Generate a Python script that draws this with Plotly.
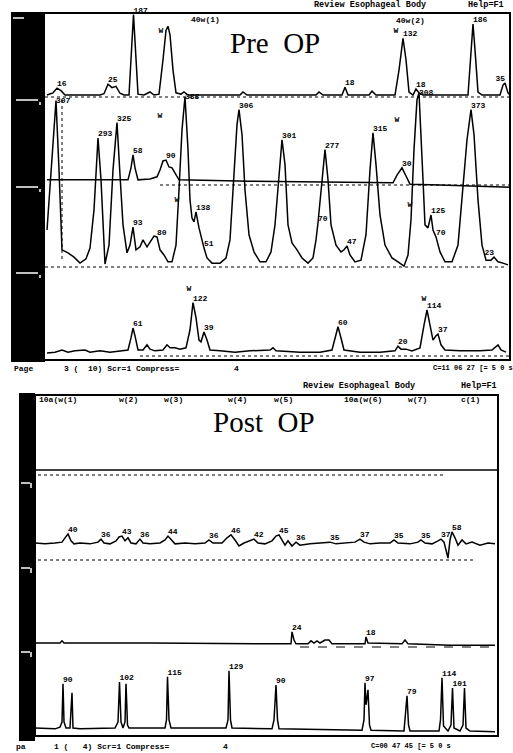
import plotly.graph_objects as go

W, H = 513, 753
K = 0.43  # pixels per mmHg on every channel

# ---------------- PRE OP (time in s, pressure in mmHg) ----------------
pre_ch1_t = [9.4, 10.6, 11.4, 12.2, 13.0, 20.0, 20.8, 21.6, 22.4, 23.2, 24.0, 24.8, 25.8, 26.3, 26.7, 27.1, 27.6,
             28.8, 30.0, 30.8, 31.8, 32.6, 33.2, 33.6, 34.0, 34.6, 35.2, 36.2, 36.8, 37.6, 48.0, 48.6, 49.4,
             63.2, 63.8, 64.6, 68.4, 69.0, 69.6, 73.8, 74.4, 75.2, 79.0, 79.8, 80.6, 81.2, 81.8, 82.6,
             83.2, 83.8, 84.6, 93.6, 94.2, 94.6, 95.0, 95.6, 96.4, 100.0, 100.6, 101.0, 101.6, 102.0]
pre_ch1_p = [0, 5, 16, 10, 0, 0, 3, 25, 17, 20, 4, 0, 0, 105, 187, 105, 2,
             0, 7, 0, 2, 82, 150, 160, 140, 58, 5, 2, 7, 0, 0, 7, 0,
             0, 7, 0, 0, 18, 0, 0, 9, 0, 0, 58, 132, 82, 7, 0,
             14, 5, 0, 0, 105, 165, 105, 7, 0, 0, 23, 28, 5, 0]
pre_ch1_lab_t = [11.4, 21.6, 26.7, 69.0, 80.6, 83.2, 94.6, 101.0]
pre_ch1_lab = ["16", "25", "187", "18", "132", "18", "186", "35"]
pre_ch1_w_t = [32.2, 79.2]
pre_ch1_w_p = [150, 150]

pre_ch2_t = [9.4, 10.0, 10.6, 11.2, 11.8, 12.4, 13.6, 14.8, 16.0, 17.2, 18.0, 18.8, 19.6, 20.2, 21.0, 21.8, 22.6,
             23.4, 24.0, 24.6, 25.4, 26.0, 26.6, 27.2, 28.0, 28.6, 29.4, 30.2, 30.8, 31.4, 32.0, 32.8, 33.6,
             34.4, 35.2, 35.8, 36.4, 37.0, 37.6, 38.0, 38.4, 38.8, 39.2, 39.8, 40.4, 40.8, 41.4, 42.4, 44.0,
             45.2, 46.0, 46.8, 47.4, 47.8, 48.4, 49.0, 49.8, 50.8, 52.0, 53.2, 54.2, 55.0, 55.8, 56.4, 57.0,
             57.6, 58.4, 59.4, 60.4, 61.6, 62.6, 63.2, 63.6, 64.2, 65.0, 65.6, 66.2, 67.2, 68.2, 68.8, 69.4,
             70.0, 71.0, 72.2, 73.2, 74.0, 74.6, 75.2, 76.0, 77.0, 78.4, 79.6, 80.8, 81.6, 82.2, 82.8, 83.4,
             83.8, 84.2, 84.6, 85.0, 85.6, 86.2, 86.6, 87.2, 88.0, 89.0, 90.4, 91.6, 92.4, 93.4, 94.2, 94.8,
             95.6, 96.4, 97.2, 98.2, 98.8, 99.6, 100.6, 101.6]
pre_ch2_p = [79, 184, 289, 380, 219, 33, 26, 16, 2, 12, 37, 126, 293, 196, 0, 44, 219,
             329, 207, 91, 26, 44, 86, 33, 40, 56, 40, 56, 65, 63, 33, 21, 5,
             5, 44, 172, 312, 389, 266, 149, 107, 98, 121, 84, 51, 37, 14, 2, 2,
             14, 56, 196, 324, 359, 301, 172, 68, 28, 5, 5, 28, 91, 207, 289, 231,
             91, 49, 33, 14, 2, 14, 56, 96, 172, 266, 196, 91, 44, 28, 33, 42,
             21, 5, 9, 68, 219, 305, 231, 114, 44, 14, 5, -5, 21, 103, 266, 382,
             398, 312, 196, 91, 84, 114, 79, 63, 28, 5, 5, 44, 149, 289, 359, 301,
             149, 44, 9, 9, 16, 5, 2, -2]
pre_ch2_lab_t = [11.2, 19.6, 23.4, 26.6, 31.4, 37.0, 39.2, 40.8, 47.8, 56.4, 63.6, 65.0, 69.4, 74.6,
                 83.8, 86.2, 87.2, 94.2, 98.8]
pre_ch2_lab = ["307", "293", "325", "93", "80", "388", "138", "51", "306", "301", "70", "277", "47", "315",
               "308", "125", "70", "373", "23"]
pre_ch2_w_t = [32.0, 79.4, 35.4, 82.0]
pre_ch2_w_p = [345, 335, 150, 138]

pre_ch2b_t = [9.4, 16.0, 25.6, 26.2, 26.6, 27.0, 27.6, 30.0, 31.4, 32.0, 32.6, 33.2, 33.8, 34.4, 35.0, 35.8,
              50.0, 64.0, 78.6, 79.4, 80.4, 81.2, 82.0, 88.0, 102.0]
pre_ch2b_p = [5, 5, 5, 33, 63, 33, 5, 7, 12, 28, 49, 51, 35, 33, 21, 5,
              2, 0, -2, 16, 33, 14, -5, -7, -12]
pre_ch2b_lab_t = [26.6, 33.2, 80.4]
pre_ch2b_lab = ["58", "90", "30"]

pre_ch3_t = [9.4, 11.0, 12.4, 13.6, 15.0, 17.0, 18.0, 20.0, 22.0, 24.0, 25.6, 26.2, 26.6, 27.0, 27.6, 28.6,
             29.4, 30.0, 31.0, 32.6, 33.4, 34.0, 35.0, 36.0, 37.2, 38.0, 38.6, 39.2, 39.8, 40.2, 40.8, 41.4,
             42.0, 44.0, 47.0, 50.0, 54.0, 54.6, 55.2, 60.0, 64.0, 66.4, 67.0, 67.6, 68.2, 68.8, 72.0, 76.0,
             79.0, 79.6, 80.2, 81.2, 82.4, 84.0, 84.8, 85.4, 86.0, 86.6, 87.2, 87.6, 88.2, 89.0, 92.0, 96.0,
             98.4, 99.2, 99.6, 100.2, 101.2]
pre_ch3_p = [0, 2, 7, 2, 5, 7, 2, 5, 2, 5, 7, 35, 58, 40, 7, 7,
             19, 9, 5, 7, 19, 12, 12, 9, 12, 54, 117, 82, 30, 26, 49, 30,
             7, 5, 2, 5, 7, 12, 5, 2, 2, 7, 35, 61, 35, 7, 2, 2,
             5, 16, 9, 9, 5, 12, 65, 100, 65, 30, 40, 44, 19, 7, 5, 5,
             7, 16, 19, 7, 2]
pre_ch3_lab_t = [26.6, 38.6, 40.8, 67.6, 79.6, 85.4, 87.6]
pre_ch3_lab = ["61", "122", "39", "60", "20", "114", "37"]
pre_ch3_w_t = [37.8, 84.8]
pre_ch3_w_p = [150, 125]

# ---------------- POST OP ----------------
post_ch1_t = [7.0, 30.0, 60.0, 99.6]
post_ch1_p = [0, 0, 0, 0]

post_ch2_t = [7.0, 9.0, 11.0, 12.4, 13.0, 13.6, 14.2, 14.8, 16.0, 18.0, 19.6, 20.2, 20.8, 22.0, 23.2, 23.8,
              24.4, 25.0, 25.6, 26.2, 27.2, 28.0, 28.6, 30.0, 32.0, 33.0, 33.6, 34.4, 35.0, 37.0, 39.0, 41.0,
              41.8, 42.6, 44.4, 45.4, 46.2, 47.0, 47.8, 48.8, 50.0, 50.8, 51.6, 53.0, 54.4, 55.2, 55.8, 56.4,
              57.0, 57.6, 58.4, 59.2, 60.0, 62.0, 64.0, 66.0, 67.2, 69.0, 71.0, 72.0, 72.8, 74.0, 76.0, 78.0,
              78.8, 79.6, 82.0, 83.6, 84.2, 85.0, 86.4, 87.6, 88.2, 88.8, 89.2, 89.6, 90.0, 90.4, 91.0, 91.6,
              92.4, 93.2, 94.4, 96.0, 97.6, 99.0]
post_ch2_p = [0, -2, 0, 2, 12, 21, 5, -2, 0, -2, 2, 9, 0, -2, 5, 14,
              16, 5, 12, 0, -2, 9, 0, -2, 0, 7, 16, 5, -2, 0, -2, 0,
              7, 0, 0, 12, 19, 7, -7, 0, 5, 9, 0, -2, 5, 16, 19, 7,
              -5, 5, -7, 2, -5, -2, 0, 2, -2, 0, 2, 9, 2, -2, 0, 0,
              7, 0, -2, 2, 7, 0, -2, 5, 9, 2, -16, -35, 7, 26, 12, -5,
              7, -2, 2, -5, 0, -2]
post_ch2_lab_t = [13.6, 20.2, 24.4, 28.0, 33.6, 41.8, 46.2, 50.8, 55.8, 59.2, 66.0, 72.0, 78.8, 84.2, 88.2, 90.4]
post_ch2_lab = ["40", "36", "43", "36", "44", "36", "46", "42", "45", "36", "35", "37", "35", "35", "37", "58"]

post_ch3_t = [7.0, 12.0, 12.4, 12.8, 30.0, 50.0, 58.2, 58.4, 58.8, 59.2, 61.6, 62.2, 62.8, 63.4, 64.0, 65.0,
              65.8, 66.4, 73.0, 73.2, 73.6, 80.4, 81.0, 81.6, 90.0, 99.0]
post_ch3_p = [0, 0, 5, 0, 0, -2, -2, 26, 7, -2, -2, 5, 0, 5, 0, 7,
              7, -2, -2, 14, 0, -2, 7, -2, -5, -5]
post_ch3_lab_t = [58.4, 73.2]
post_ch3_lab = ["24", "18"]

post_ch4_t = [7.0, 11.0, 12.0, 12.4, 12.6, 12.8, 13.2, 14.0, 14.2, 14.4, 14.6, 16.0, 23.0, 23.6, 23.9, 24.2,
              24.6, 25.0, 25.2, 25.5, 25.8, 33.0, 33.3, 33.5, 33.8, 34.2, 45.2, 45.6, 45.8, 46.1, 46.4, 54.4,
              54.8, 55.2, 55.5, 55.8, 72.4, 72.8, 73.0, 73.2, 73.4, 73.6, 73.9, 74.2, 80.8, 81.1, 81.4, 81.7,
              82.0, 87.8, 88.1, 88.4, 88.7, 89.2, 89.6, 90.2, 90.5, 90.8, 92.0, 92.6, 92.9, 93.2, 94.0, 99.0]
post_ch4_p = [0, -2, 2, 14, 103, 14, 0, 0, 42, 82, 0, -2, 0, 14, 107, 14,
              0, 14, 103, 7, 0, 0, 19, 119, 19, 0, 0, 19, 133, 19, 0, -2,
              19, 100, 19, -2, -5, 19, 105, 54, 70, 89, 7, -5, -7, 30, 75, 7,
              -7, -7, 19, 117, 5, -2, -7, 7, 93, 0, -7, 7, 93, 0, -7, -9]
post_ch4_lab_t = [12.6, 23.9, 33.5, 45.8, 55.2, 73.0, 81.4, 88.4, 90.5]
post_ch4_lab = ["90", "102", "115", "129", "90", "97", "79", "114", "101"]


# ---------------- helpers (layout only) ----------------
def fx(p):
    return p / W


def fy(p):
    return 1 - p / H


MONO = "Liberation Mono"
SERIF = "Liberation Serif"
SIDE_LABELS = {"307", "388", "308"}   # labels of saturated peaks are printed beside the peak tip
fig = go.Figure()


def add_channel(t, p, xa, ya, lab_t=None, lab=None, w_t=None, w_p=None, xmax=None):
    fig.add_trace(go.Scatter(x=t, y=p, mode="lines", line=dict(color="black", width=1.5),
                             xaxis=xa, yaxis=ya, hoverinfo="skip", showlegend=False))
    if lab_t:
        ly = [p[min(range(len(t)), key=lambda i: abs(t[i] - tt))] for tt in lab_t]
        pos = []
        for tt, s in zip(lab_t, lab):
            if xmax is not None and tt > xmax - 4:
                pos.append("top left")
            elif s in SIDE_LABELS:
                pos.append("middle right")
            else:
                pos.append("top right")
        fig.add_trace(go.Scatter(x=lab_t, y=ly, mode="text", text=lab, textposition=pos,
                                 textfont=dict(family=MONO, size=8, color="black", weight="bold"),
                                 xaxis=xa, yaxis=ya, cliponaxis=False, hoverinfo="skip", showlegend=False))
    if w_t:
        fig.add_trace(go.Scatter(x=w_t, y=w_p, mode="text", text=["W"] * len(w_t), textposition="middle center",
                                 textfont=dict(family=MONO, size=8, color="black", weight="bold"),
                                 xaxis=xa, yaxis=ya, cliponaxis=False, hoverinfo="skip", showlegend=False))


add_channel(pre_ch1_t, pre_ch1_p, "x", "y", pre_ch1_lab_t, pre_ch1_lab, pre_ch1_w_t, pre_ch1_w_p, xmax=102)
add_channel(pre_ch2_t, pre_ch2_p, "x", "y2", pre_ch2_lab_t, pre_ch2_lab, pre_ch2_w_t, pre_ch2_w_p, xmax=102)
add_channel(pre_ch2b_t, pre_ch2b_p, "x", "y3", pre_ch2b_lab_t, pre_ch2b_lab, xmax=102)
add_channel(pre_ch3_t, pre_ch3_p, "x", "y4", pre_ch3_lab_t, pre_ch3_lab, pre_ch3_w_t, pre_ch3_w_p, xmax=102)
add_channel(post_ch1_t, post_ch1_p, "x2", "y5")
add_channel(post_ch2_t, post_ch2_p, "x2", "y6", post_ch2_lab_t, post_ch2_lab, xmax=99.6)
add_channel(post_ch3_t, post_ch3_p, "x2", "y7", post_ch3_lab_t, post_ch3_lab, xmax=99.6)
add_channel(post_ch4_t, post_ch4_p, "x2", "y8", post_ch4_lab_t, post_ch4_lab, xmax=99.6)

TOP = (13, 360)
BOT = (395, 736)


def yax(base, panel, anchor):
    top, bot = panel
    return dict(domain=[fy(bot), fy(top)], range=[-(bot - base) / K, (base - top) / K],
                visible=False, anchor=anchor, fixedrange=True, autorange=False)


layout = dict(
    width=W, height=H, margin=dict(l=0, r=0, t=0, b=0),
    paper_bgcolor="white", plot_bgcolor="rgba(0,0,0,0)", showlegend=False,
    xaxis=dict(domain=[fx(45), fx(510)], range=[9, 102], visible=False, anchor="y", fixedrange=True),
    xaxis2=dict(domain=[fx(35), fx(498)], range=[7, 99.6], visible=False, anchor="y5", fixedrange=True),
    yaxis=yax(95, TOP, "x"),
    yaxis2=yax(264, TOP, "x"),
    yaxis3=yax(182, TOP, "x"),
    yaxis4=yax(353, TOP, "x"),
    yaxis5=yax(470, BOT, "x2"),
    yaxis6=yax(543, BOT, "x2"),
    yaxis7=yax(643, BOT, "x2"),
    yaxis8=yax(728, BOT, "x2"),
)
fig.update_layout(**layout)

shapes = []


def rect(x0, y0, x1, y1, fill=None, lw=0, lc="black"):
    shapes.append(dict(type="rect", xref="paper", yref="paper", x0=fx(x0), x1=fx(x1), y0=fy(y1), y1=fy(y0),
                       fillcolor=fill if fill else "rgba(0,0,0,0)", line=dict(width=lw, color=lc), layer="above"))


def hline(x0, x1, y, dash="solid", lw=1, color="black"):
    shapes.append(dict(type="line", xref="paper", yref="paper", x0=fx(x0), x1=fx(x1), y0=fy(y), y1=fy(y),
                       line=dict(width=lw, color=color, dash=dash), layer="above"))


def vline(x, y0, y1, dash="solid", lw=1, color="black"):
    shapes.append(dict(type="line", xref="paper", yref="paper", x0=fx(x), x1=fx(x), y0=fy(y0), y1=fy(y1),
                       line=dict(width=lw, color=color, dash=dash), layer="above"))


# black side bars
rect(11, 12, 45, 362, fill="black")
rect(19, 393, 35, 741, fill="black")
# frames
rect(44, 13, 510, 360, lw=2)
rect(35, 395, 498, 736, lw=2)
# white marks on the side bars
for y in (100, 187, 273):
    hline(16, 38, y, lw=1.5, color="white")
    vline(40, y + 2, y + 5, lw=1.5, color="white")
hline(13, 24, 18, lw=1.5, color="white")
for y in (483, 568, 652):
    hline(21, 30, y, lw=1.5, color="white")
    vline(31, y, y + 5, lw=1.5, color="white")
# dotted reference lines
hline(45, 510, 97, dash="dot", lw=1)
hline(160, 510, 185, dash="dot", lw=1)
hline(45, 505, 267, dash="dot", lw=1)
hline(140, 510, 356, dash="dot", lw=1)
vline(62, 100, 262, dash="dot", lw=1)
hline(38, 445, 475, dash="dot", lw=1)
hline(38, 475, 560, dash="dot", lw=1)
hline(300, 495, 647, dash="dash", lw=1)
fig.update_layout(shapes=shapes)

ann = []


def txt(s, x, y, size=9, family=MONO, bold=True, anchor="left"):
    ann.append(dict(text=s, x=fx(x), y=fy(y), xref="paper", yref="paper", xanchor=anchor, yanchor="middle",
                    showarrow=False, borderpad=0,
                    font=dict(family=family, size=size, color="black", weight="bold" if bold else "normal")))


NB = "\u00a0"
txt("Review Esophageal Body", 313, 5, size=8.5)
txt("Help=F1", 467, 5, size=8.5)
txt("40w(1)", 190, 20, size=8)
txt("40w(2)", 395, 21, size=8)
txt("Pre" + NB + NB + "OP", 275, 43, size=29, family=SERIF, bold=False, anchor="center")
txt("Page", 13, 368, size=8)
txt("3 (  10) Scr=1 Compress=", 63, 368, size=8)
txt("4", 233, 368, size=8)
txt("C=11 06 27 [= 5 0 s", 432, 368, size=7)

txt("Review Esophageal Body", 302, 386, size=8.5)
txt("Help=F1", 460, 386, size=8.5)
for s, x in (("10a(w(1)", 38), ("w(2)", 118), ("w(3)", 163), ("w(4)", 227), ("w(5)", 273),
             ("10a(w(6)", 343), ("w(7)", 407), ("c(1)", 460)):
    txt(s, x, 399, size=8)
txt("Post" + NB + NB + "OP", 264, 422, size=29, family=SERIF, bold=False, anchor="center")
txt("pa", 15, 746, size=8)
txt("1 (   4) Scr=1 Compress=", 53, 746, size=8)
txt("4", 222, 746, size=8)
txt("C=00 47 45 [= 5 0 s", 370, 746, size=7)
fig.update_layout(annotations=ann)

fig.write_html("out.html", config={"displayModeBar": False, "staticPlot": True},
               post_script="document.body.style.margin='0';document.body.style.overflow='hidden';")
